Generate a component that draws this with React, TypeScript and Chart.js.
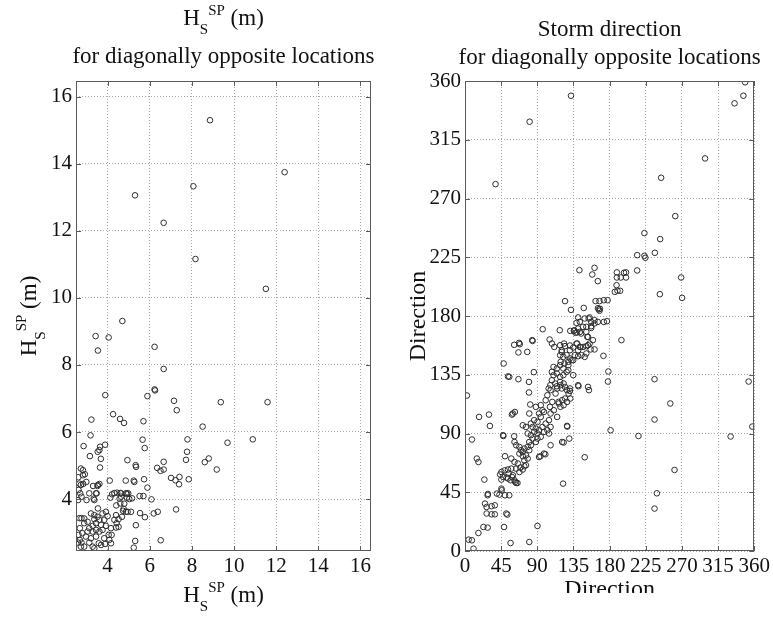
import React, { useEffect, useRef } from "react";
import { Chart, registerables } from "chart.js";
Chart.register(...registerables);

const FONT = "'Liberation Serif', 'DejaVu Serif', serif";

// ---------- data ----------
const hsTicks = [4, 6, 8, 10, 12, 14, 16];
const dirTicks = [0, 45, 90, 135, 180, 225, 270, 315, 360];

const leftTitle2 = "for diagonally opposite locations";
const rightTitle1 = "Storm direction";
const rightTitle2 = "for diagonally opposite locations";
const dirLabel = "Direction";

// Hs^SP pairs [x, y] (m)
const hsPoints: [number, number][] = [
  [8.86, 15.3], [12.4, 13.75], [8.07, 13.33], [5.3, 13.06], [6.66, 12.24], [8.17, 11.16], [11.51, 10.27], [4.7, 9.31],
  [3.43, 8.86], [4.05, 8.82], [3.54, 8.43], [6.23, 8.54], [6.66, 7.88], [6.23, 7.27], [3.89, 7.1], [5.89, 7.07],
  [6.25, 7.24], [7.15, 6.93], [9.37, 6.89], [11.59, 6.89], [7.28, 6.65],
  [3.23, 6.37], [4.26, 6.53], [4.59, 6.39], [4.78, 6.27], [5.7, 6.32], [8.51, 6.16], [3.19, 5.9], [2.86, 5.58],
  [3.16, 5.28], [3.53, 5.41], [3.61, 5.46], [3.64, 5.56], [3.88, 5.62], [3.68, 5.2], [3.64, 4.94], [4.94, 5.16],
  [5.35, 4.96], [5.33, 5.01], [5.66, 5.77], [5.76, 5.52], [6.66, 5.11], [6.35, 4.93], [6.51, 4.84], [6.66, 4.88],
  [7.72, 5.17], [7.77, 5.41], [7.79, 5.78], [8.61, 5.1], [8.8, 5.21], [9.18, 4.88], [9.69, 5.68], [10.89, 5.78],
  [7.01, 4.63], [7.22, 4.56], [7.41, 4.66], [7.39, 4.44], [7.85, 4.59], [7.25, 3.69], [6.52, 2.77],
  [5.73, 4.59], [5.89, 4.34], [6.08, 3.99], [6.19, 3.57], [6.38, 3.62], [5.54, 3.58], [5.77, 3.46], [5.34, 3.22],
  [5.31, 2.75], [5.24, 2.55], [5.52, 4.09], [5.7, 4.09], [5.16, 4.02], [4.92, 4.16], [5.27, 4.51], [5.24, 4.55],
  [4.86, 4.55], [4.1, 4.55], [4.6, 4.18], [4.32, 4.18], [4.13, 4.04], [4.21, 4.14], [4.45, 4.19], [4.64, 4.17],
  [4.87, 4.17], [4.98, 4.17], [4.64, 4.07], [4.92, 4.04], [5.03, 4.0], [4.41, 3.81], [4.6, 3.87], [4.57, 4.01],
  [4.79, 3.86], [4.76, 3.71], [4.87, 3.62], [4.95, 3.62], [5.11, 3.62], [4.73, 3.65], [4.68, 3.47], [4.52, 3.4],
  [4.43, 3.28], [4.4, 3.15], [4.52, 3.17], [4.19, 2.93], [4.05, 2.93], [4.16, 2.68], [3.88, 2.66], [3.69, 2.63],
  [3.58, 2.68],
  [3.54, 4.42], [3.31, 4.39], [2.99, 4.51], [2.66, 4.46], [2.61, 4.65], [2.83, 4.86], [2.83, 4.71], [2.73, 4.91],
  [2.92, 4.74], [3.48, 4.17], [3.34, 4.01], [2.7, 4.17], [2.76, 4.07], [2.62, 4.27], [2.6, 3.97], [3.0, 3.97],
  [3.13, 4.17], [3.45, 4.17], [3.37, 3.97], [3.52, 4.39], [3.61, 4.45], [3.54, 3.72], [2.73, 4.42], [2.84, 4.45],
  [2.89, 3.28], [2.76, 3.43], [2.66, 3.43], [2.68, 3.13], [2.8, 2.98], [2.62, 2.93], [2.68, 2.78], [2.6, 2.7],
  [2.76, 2.7], [2.89, 2.58], [3.13, 2.7], [3.29, 2.58],
  [3.21, 3.57], [3.37, 3.52], [3.52, 3.47], [3.37, 3.4], [3.61, 3.38], [3.76, 3.57], [3.92, 3.62], [4.0, 3.49],
  [3.84, 3.38], [3.69, 3.23], [3.45, 3.28], [3.29, 3.2], [3.13, 3.13], [3.05, 3.03], [3.29, 3.03], [3.45, 3.08],
  [3.61, 3.03], [3.92, 3.2], [4.16, 3.13], [2.89, 3.42], [3.05, 3.32], [3.76, 3.08], [4.32, 3.38], [4.4, 3.52],
  [2.97, 2.88], [3.21, 2.83], [3.45, 2.88], [3.84, 2.83], [4.08, 2.78], [2.73, 2.58], [3.37, 2.53],
];

// Storm direction pairs [x, y] (degrees)
const dirPoints: [number, number][] = [
  [348.6, 359.0], [346.5, 348.7], [335.5, 342.9], [131.9, 348.7], [80.4, 328.8], [38.0, 281.0], [298.8, 300.7],
  [244.1, 285.9], [261.7, 256.5], [223.3, 243.5], [242.9, 238.9], [214.3, 226.6], [223.3, 226.1], [224.5, 224.6],
  [236.3, 228.4], [214.3, 214.9], [269.0, 209.5], [242.5, 196.7], [270.2, 193.9],
  [189.0, 213.4], [200.4, 213.4], [197.9, 213.1], [189.0, 209.5], [193.9, 209.5], [200.4, 209.5], [188.6, 203.6],
  [189.8, 199.3], [193.1, 199.3], [186.5, 198.5], [161.2, 216.9], [158.4, 211.8], [165.3, 206.7], [142.4, 215.1],
  [162.5, 191.4], [167.4, 191.4], [172.7, 192.1], [177.5, 192.1], [124.5, 191.4], [131.9, 184.7], [147.8, 186.2],
  [166.5, 185.0], [167.4, 184.0], [165.5, 186.0], [168.0, 185.5],
  [140.8, 178.9], [149.0, 178.1], [155.1, 178.9], [151.0, 171.7], [157.1, 175.5], [161.2, 174.3], [165.3, 175.5],
  [176.7, 176.0], [161.2, 176.8], [172.7, 175.5],
  [96.7, 169.9], [117.9, 169.1], [131.0, 168.6], [135.5, 168.6], [139.2, 167.4], [144.5, 166.6], [157.1, 170.9],
  [138.8, 174.7], [142.9, 175.5], [153.9, 178.1], [146.9, 171.7], [157.1, 172.2], [151.0, 167.8], [135.9, 169.1],
  [140.8, 170.4], [137.5, 167.1], [142.9, 167.8], [194.7, 161.5],
  [105.3, 162.0], [108.2, 158.9], [111.1, 156.3], [118.4, 157.6], [123.3, 158.9], [130.6, 153.8],
  [139.6, 158.9], [143.7, 156.3], [153.1, 157.6], [152.2, 164.0], [156.4, 154.4], [172.3, 149.5],
  [61.2, 157.9], [68.2, 158.4], [66.5, 152.1], [77.5, 152.5], [84.1, 160.9],
  [48.1, 143.6], [53.5, 133.7], [66.5, 131.6], [79.6, 129.5], [85.7, 137.0],
  [120.4, 152.5], [122.4, 148.7], [119.1, 144.9], [123.7, 143.6], [128.6, 144.9], [132.6, 146.2],
  [178.4, 137.5], [177.9, 129.8], [235.9, 131.6], [353.0, 129.8],
  [153.1, 164.0], [159.2, 161.5], [161.2, 154.4], [155.1, 158.9], [151.0, 156.9], [146.9, 156.3], [142.9, 156.3],
  [138.8, 158.9], [140.8, 153.8], [134.7, 155.9], [130.6, 157.4], [124.5, 156.9], [120.4, 153.8], [118.4, 150.0],
  [126.5, 150.0], [130.6, 147.5], [136.7, 150.0], [140.8, 149.2], [144.9, 150.0], [149.0, 148.7], [151.0, 151.3],
  [134.7, 146.2], [128.6, 142.3], [122.4, 139.8], [118.4, 142.3], [114.3, 139.8], [110.2, 141.0], [108.1, 137.2],
  [110.2, 134.7], [114.3, 136.0], [118.4, 133.4], [122.4, 134.7], [126.5, 137.2], [128.6, 138.5], [134.7, 134.7],
  [140.8, 127.0], [153.1, 125.7], [108.1, 130.8], [112.3, 128.3], [114.3, 126.2], [118.4, 129.5], [124.5, 125.7],
  [130.6, 124.5], [120.4, 124.5], [106.2, 127.0], [104.1, 124.5],
  [83.7, 161.5], [67.3, 159.4], [55.1, 133.4],
  [141.2, 126.2], [154.3, 123.2], [130.6, 122.6], [124.5, 116.8], [116.3, 114.2], [79.6, 121.4],
  [81.2, 112.2], [59.6, 105.3], [80.0, 105.3], [71.9, 96.3], [75.9, 95.0], [88.2, 110.4], [94.3, 111.7],
  [96.4, 107.8], [100.4, 115.5], [102.5, 119.3], [106.5, 123.2],
  [78.0, 90.0], [82.0, 88.7], [84.1, 86.1], [86.1, 91.2], [88.2, 93.8], [90.2, 90.0], [92.2, 92.5], [94.3, 87.4],
  [84.1, 95.0], [80.0, 83.5], [88.2, 83.5], [90.2, 86.1], [82.0, 97.6], [86.1, 100.2], [90.2, 98.9], [92.2, 105.3],
  [94.3, 102.7], [98.3, 106.5], [100.4, 97.6], [102.5, 92.5], [104.5, 100.2], [106.5, 105.3], [105.7, 110.4],
  [108.6, 114.2], [110.6, 107.8], [114.7, 102.7], [118.8, 110.4], [116.7, 113.0], [120.9, 115.5], [122.8, 111.7],
  [127.0, 114.2], [131.0, 116.8], [112.7, 120.6], [114.7, 124.5], [118.8, 127.0], [122.8, 128.3], [127.0, 123.2],
  [128.9, 120.6],
  [127.0, 95.8], [120.9, 83.5], [106.5, 81.0], [98.3, 74.6], [92.2, 72.0], [96.4, 95.0], [98.3, 91.2], [104.5, 90.0],
  [106.5, 95.0], [122.8, 83.1], [129.8, 86.1], [127.3, 95.3], [122.1, 51.6], [149.0, 71.8], [181.2, 92.5],
  [215.9, 88.1], [235.9, 100.7], [255.5, 113.0], [235.9, 32.5], [238.8, 44.2], [260.8, 62.1], [330.6, 87.7],
  [357.6, 95.3], [93.9, 72.6], [100.0, 74.1],
  [61.6, 83.5], [63.7, 81.0], [67.7, 79.7], [69.8, 77.2], [71.9, 75.9], [73.8, 78.5], [78.0, 79.7], [80.0, 77.2],
  [82.0, 81.0], [75.9, 73.3], [71.9, 72.6], [67.7, 74.6], [73.8, 69.5], [78.0, 70.8],
  [57.6, 70.8], [61.6, 68.2], [65.8, 67.0], [68.9, 63.9], [63.7, 63.1], [71.9, 62.4], [67.7, 60.5], [73.8, 64.9],
  [75.9, 65.7], [45.3, 60.5], [49.4, 61.8], [53.5, 62.4], [57.6, 63.1], [47.4, 56.7], [53.5, 55.5], [59.6, 58.0],
  [56.7, 54.2], [61.6, 54.2], [63.7, 52.1], [43.7, 58.6], [45.3, 54.7], [54.3, 59.3], [58.4, 56.7], [62.4, 52.9],
  [65.3, 52.1], [51.8, 56.3],
  [49.8, 72.6], [47.8, 88.1], [61.2, 87.9], [58.4, 104.5], [62.1, 106.5],
  [39.6, 44.0], [42.9, 43.2], [45.7, 46.5], [49.8, 42.7], [55.1, 42.7], [45.3, 47.8], [28.2, 42.7],
  [24.9, 36.3], [26.9, 33.7], [33.1, 34.3], [37.1, 35.0], [26.9, 28.7], [33.1, 28.1], [37.1, 28.1], [51.4, 28.7],
  [52.7, 27.9], [22.9, 18.4], [28.2, 17.9], [16.7, 13.8], [4.5, 8.7], [8.6, 8.2], [10.6, 1.8], [48.6, 18.4],
  [56.7, 6.1], [80.0, 6.9], [90.2, 19.2],
  [14.7, 70.8], [16.7, 68.2], [24.1, 54.7], [8.6, 85.4], [17.5, 102.7], [29.8, 104.5], [31.0, 95.8], [2.4, 119.1],
  [28.5, 43.7], [47.4, 88.7],
];

// ---------- helpers ----------
type Part = { t: string; size: number; dy: number };
const hsLabelParts: Part[] = [
  { t: "H", size: 23, dy: 0 },
  { t: "S", size: 15, dy: 9 },
  { t: "SP", size: 15, dy: -10 },
  { t: " (m)", size: 23, dy: 0 },
];

function drawRich(ctx: CanvasRenderingContext2D, parts: Part[], cx: number, baseline: number) {
  let w = 0;
  for (const p of parts) {
    ctx.font = `${p.size}px ${FONT}`;
    w += ctx.measureText(p.t).width;
  }
  let x = cx - w / 2;
  ctx.textAlign = "left";
  ctx.textBaseline = "alphabetic";
  for (const p of parts) {
    ctx.font = `${p.size}px ${FONT}`;
    ctx.fillText(p.t, x, baseline + p.dy);
    x += ctx.measureText(p.t).width;
  }
}

type Deco = {
  title: { parts: Part[]; baseline: number }[];
  xLabel: { parts: Part[]; baseline: number };
  yLabel: { parts: Part[]; baseline: number };
  xTicks: number[];
  yTicks: number[];
};

function decoPlugin(d: Deco) {
  return {
    id: "deco",
    afterDraw(chart: any) {
      const { ctx, chartArea: a, scales } = chart;
      ctx.save();
      // frame
      ctx.strokeStyle = "#5a5a5a";
      ctx.lineWidth = 1;
      ctx.strokeRect(Math.round(a.left) + 0.5, Math.round(a.top) + 0.5, Math.round(a.right - a.left) - 1, Math.round(a.bottom - a.top) - 1);
      // inward ticks
      ctx.beginPath();
      const L = 5;
      for (const v of d.xTicks) {
        const x = Math.round(scales.x.getPixelForValue(v)) + 0.5;
        ctx.moveTo(x, a.bottom);
        ctx.lineTo(x, a.bottom - L);
        ctx.moveTo(x, a.top);
        ctx.lineTo(x, a.top + L);
      }
      for (const v of d.yTicks) {
        const y = Math.round(scales.y.getPixelForValue(v)) + 0.5;
        ctx.moveTo(a.left, y);
        ctx.lineTo(a.left + L, y);
        ctx.moveTo(a.right, y);
        ctx.lineTo(a.right - L, y);
      }
      ctx.stroke();
      // texts
      ctx.fillStyle = "#111";
      const cx = (a.left + a.right) / 2;
      for (const t of d.title) drawRich(ctx, t.parts, cx, t.baseline);
      drawRich(ctx, d.xLabel.parts, cx, d.xLabel.baseline);
      const cy = (a.top + a.bottom) / 2;
      ctx.translate(d.yLabel.baseline, cy);
      ctx.rotate(-Math.PI / 2);
      drawRich(ctx, d.yLabel.parts, 0, 0);
      ctx.restore();
    },
  };
}

function makeChart(
  canvas: HTMLCanvasElement,
  points: [number, number][],
  xr: [number, number],
  yr: [number, number],
  xTicks: number[],
  yTicks: number[],
  yAxisWidth: number,
  xAxisHeight: number,
  padRight: number,
  deco: Deco
) {
  const tickCfg = (ticks: number[]) => ({
    afterBuildTicks: (s: any) => {
      s.ticks = ticks.map((v) => ({ value: v }));
    },
  });
  return new Chart(canvas, {
    type: "scatter",
    data: {
      datasets: [
        {
          data: points.map(([x, y]) => ({ x, y })),
          pointStyle: "circle",
          pointRadius: 2.8,
          pointBorderWidth: 1,
          borderColor: "#2e2e2e",
          backgroundColor: "rgba(0,0,0,0)",
        },
      ],
    },
    options: {
      animation: false,
      responsive: false,
      maintainAspectRatio: false,
      events: [],
      layout: { padding: { top: 81, right: padRight, left: 0, bottom: 0 } },
      plugins: { legend: { display: false }, tooltip: { enabled: false }, title: { display: false } },
      scales: {
        x: {
          type: "linear",
          min: xr[0],
          max: xr[1],
          ...tickCfg(xTicks),
          afterFit: (s: any) => {
            s.height = xAxisHeight;
          },
          grid: { color: "#a8a8a8", lineWidth: 1, drawTicks: false },
          border: { display: false, dash: [1, 2] },
          ticks: {
            padding: 3,
            color: "#111",
            font: { family: FONT, size: 21 },
            autoSkip: false,
            maxRotation: 0,
            callback: (v: any) => String(v),
          },
        },
        y: {
          type: "linear",
          min: yr[0],
          max: yr[1],
          ...tickCfg(yTicks),
          afterFit: (s: any) => {
            s.width = yAxisWidth;
          },
          grid: { color: "#a8a8a8", lineWidth: 1, drawTicks: false },
          border: { display: false, dash: [1, 2] },
          ticks: {
            padding: 4,
            color: "#111",
            font: { family: FONT, size: 21 },
            autoSkip: false,
            callback: (v: any) => String(v),
          },
        },
      },
    } as any,
    plugins: [decoPlugin(deco)],
  });
}

export default function App() {
  const leftRef = useRef<HTMLCanvasElement>(null);
  const rightRef = useRef<HTMLCanvasElement>(null);

  useEffect(() => {
    const c1 = makeChart(
      leftRef.current!,
      hsPoints,
      [2.5, 16.5],
      [2.45, 16.47],
      hsTicks,
      hsTicks,
      76,
      70,
      19,
      {
        title: [
          { parts: hsLabelParts, baseline: 25 },
          { parts: [{ t: leftTitle2, size: 23, dy: 0 }], baseline: 63 },
        ],
        xLabel: { parts: hsLabelParts, baseline: 602 },
        yLabel: { parts: hsLabelParts, baseline: 36 },
        xTicks: hsTicks,
        yTicks: hsTicks,
      }
    );
    const c2 = makeChart(
      rightRef.current!,
      dirPoints,
      [0, 360],
      [0, 360],
      dirTicks,
      dirTicks,
      75,
      42,
      14,
      {
        title: [
          { parts: [{ t: rightTitle1, size: 23, dy: 0 }], baseline: 36 },
          { parts: [{ t: rightTitle2, size: 23, dy: 0 }], baseline: 64 },
        ],
        xLabel: { parts: [{ t: dirLabel, size: 24, dy: 0 }], baseline: 596 },
        yLabel: { parts: [{ t: dirLabel, size: 24, dy: 0 }], baseline: 35 },
        xTicks: dirTicks,
        yTicks: dirTicks,
      }
    );
    return () => {
      c1.destroy();
      c2.destroy();
    };
  }, []);

  return (
    <div style={{ position: "fixed", left: 0, top: 0, width: 773, height: 621, background: "#fff" }}>
      <canvas ref={leftRef} width={390} height={621} style={{ position: "absolute", left: 0, top: 0 }} />
      <canvas ref={rightRef} width={383} height={593} style={{ position: "absolute", left: 390, top: 0 }} />
    </div>
  );
}
